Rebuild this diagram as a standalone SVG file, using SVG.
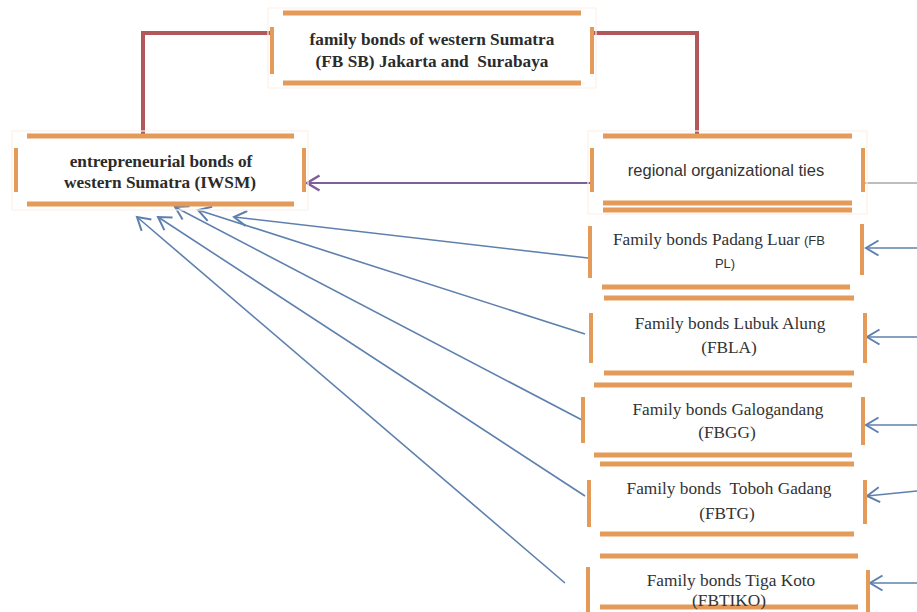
<svg xmlns="http://www.w3.org/2000/svg" width="917" height="612" viewBox="0 0 917 612">
<style>
.bar{stroke:#E49A58;stroke-width:5;stroke-linecap:butt;fill:none}
.vbar{stroke:#E49A58;stroke-width:4;fill:none}
.glow{fill:none;stroke:#FDF2E8;stroke-width:1.2}
.tb{font-family:"Liberation Serif","Times New Roman",serif;font-weight:bold;font-size:17.3px;fill:#2b2b2b;text-anchor:middle}
.tr{font-family:"Liberation Serif","Times New Roman",serif;font-size:17.3px;fill:#333;text-anchor:middle}
.ts{font-family:"Liberation Sans",Arial,sans-serif;font-size:16.5px;fill:#333;text-anchor:middle}
.red{stroke:#B3585A;stroke-width:4;fill:none}
.blue{stroke:#5E80AE;stroke-width:1.6;fill:none;marker-end:url(#ab)}
.purple{stroke:#7E5E9C;stroke-width:2;fill:none;marker-end:url(#ap)}
.gray{stroke:#A8A8A8;stroke-width:1.5;fill:none}
</style>
<defs>
<marker id="ab" markerUnits="userSpaceOnUse" markerWidth="20" markerHeight="20" viewBox="-12 -8 14 16" refX="0" refY="0" orient="auto">
<path d="M-10,-6 L0,0 L-10,6" fill="none" stroke="#5E80AE" stroke-width="1.6"/>
</marker>
<marker id="ap" markerUnits="userSpaceOnUse" markerWidth="20" markerHeight="20" viewBox="-12 -8 14 16" refX="0" refY="0" orient="auto">
<path d="M-10,-6 L0,0 L-10,6" fill="none" stroke="#7E5E9C" stroke-width="2"/>
</marker>
</defs>
<rect width="917" height="612" fill="#ffffff"/>

<g id="connectors">
<path class="red" d="M272,33 H143 V136"/>
<path class="red" d="M592,33 H697 V136"/>
<path class="purple" d="M592,183 H307"/>
<path class="gray" d="M865,183 H917"/>
<path class="blue" d="M588,258 L234,217"/>
<path class="blue" d="M585,334 L198,210"/>
<path class="blue" d="M582,420 L175,207"/>
<path class="blue" d="M585,496 L158,217"/>
<path class="blue" d="M565,583 L137,217"/>
<path class="blue" d="M917,248 L866,248"/>
<path class="blue" d="M917,337 L867,337"/>
<path class="blue" d="M917,425 L866,425"/>
<path class="blue" d="M917,491 L867,496"/>
<path class="blue" d="M917,583 L870,583"/>
</g>

<g id="fbsb">
<rect class="glow" x="268" y="8" width="328" height="80"/>
<line class="bar" x1="283" y1="13" x2="581" y2="13"/>
<line class="bar" x1="283" y1="83" x2="581" y2="83"/>
<line class="vbar" x1="272" y1="27" x2="272" y2="74"/>
<line class="vbar" x1="592" y1="27" x2="592" y2="74"/>
<text class="tb" x="432" y="45">family bonds of western Sumatra</text>
<text class="tb" x="432" y="67" xml:space="preserve">(FB SB) Jakarta and  Surabaya</text>
</g>

<g id="iwsm">
<rect class="glow" x="12" y="131" width="296" height="79"/>
<line class="bar" x1="27" y1="136" x2="294" y2="136"/>
<line class="bar" x1="27" y1="204" x2="294" y2="204"/>
<line class="vbar" x1="16" y1="148" x2="16" y2="192"/>
<line class="vbar" x1="304" y1="148" x2="304" y2="192"/>
<text class="tb" x="161" y="167">entrepreneurial bonds of</text>
<text class="tb" x="160" y="188">western Sumatra (IWSM)</text>
</g>

<g id="regional">
<rect class="glow" x="588" y="131" width="279" height="83"/>
<line class="bar" x1="603" y1="136" x2="852" y2="136"/>
<line class="bar" x1="603" y1="203" x2="852" y2="203"/>
<line class="bar" x1="603" y1="210" x2="852" y2="210"/>
<line class="vbar" x1="592" y1="148" x2="592" y2="192"/>
<line class="vbar" x1="863" y1="148" x2="863" y2="192"/>
<text class="ts" x="726" y="176">regional organizational ties</text>
</g>

<g id="fbpl">
<line class="vbar" x1="590" y1="226" x2="590" y2="278"/>
<line class="vbar" x1="862" y1="224" x2="862" y2="275"/>
<line class="bar" x1="602" y1="287" x2="850" y2="287"/>
<text class="tr" x="719" y="245">Family bonds Padang Luar <tspan font-family="Liberation Sans,Arial,sans-serif" font-size="13">(FB</tspan></text>
<text class="tr" x="725" y="268"><tspan font-family="Liberation Sans,Arial,sans-serif" font-size="13">PL)</tspan></text>
</g>

<g id="fbla">
<line class="bar" x1="604" y1="298" x2="854" y2="298"/>
<line class="bar" x1="604" y1="373" x2="854" y2="373"/>
<line class="vbar" x1="591" y1="313" x2="591" y2="363"/>
<line class="vbar" x1="865" y1="313" x2="865" y2="363"/>
<text class="tr" x="730" y="329">Family bonds Lubuk Alung</text>
<text class="tr" x="729" y="353">(FBLA)</text>
</g>

<g id="fbgg">
<line class="bar" x1="594" y1="385" x2="852" y2="385"/>
<line class="bar" x1="594" y1="455" x2="852" y2="455"/>
<line class="vbar" x1="583" y1="397" x2="583" y2="443"/>
<line class="vbar" x1="863" y1="397" x2="863" y2="445"/>
<text class="tr" x="728" y="415">Family bonds Galogandang</text>
<text class="tr" x="727" y="438">(FBGG)</text>
</g>

<g id="fbtg">
<line class="bar" x1="600" y1="464" x2="854" y2="464"/>
<line class="bar" x1="600" y1="534" x2="854" y2="534"/>
<line class="vbar" x1="589" y1="480" x2="589" y2="527"/>
<line class="vbar" x1="865" y1="480" x2="865" y2="524"/>
<text class="tr" x="729" y="494" xml:space="preserve">Family bonds  Toboh Gadang</text>
<text class="tr" x="727" y="519">(FBTG)</text>
</g>

<g id="fbtiko">
<line class="bar" x1="600" y1="556" x2="858" y2="556"/>
<line class="bar" x1="600" y1="607" x2="858" y2="607"/>
<line class="vbar" x1="588" y1="567" x2="588" y2="612"/>
<line class="vbar" x1="868" y1="570" x2="868" y2="612"/>
<text class="tr" x="731" y="586">Family bonds Tiga Koto</text>
<text class="tr" x="729" y="606">(FBTIKO)</text>
</g>
</svg>
